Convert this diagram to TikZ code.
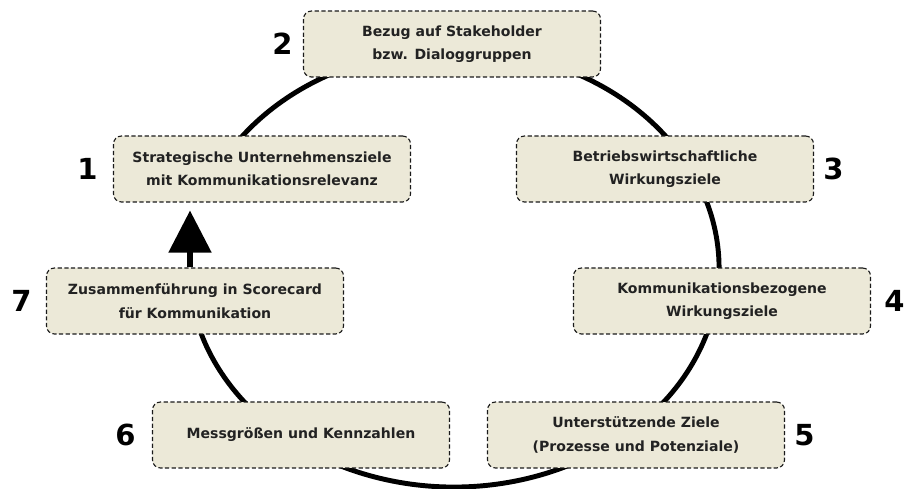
\documentclass[tikz,border=0pt]{standalone}
\usepackage{fontspec}
\setmainfont{DejaVu Sans}
\usepackage{xcolor}
\usetikzlibrary{arrows.meta}
\usetikzlibrary{positioning}
\usetikzlibrary{backgrounds}
\usetikzlibrary{calc}
\definecolor{zielfill}{HTML}{ECE9D8}
\definecolor{zieltext}{HTML}{222222}
\definecolor{zielrand}{HTML}{1A1A1A}

\begin{document}
\begin{tikzpicture}[x=0.02cm,y=-0.02cm,
    ziel/.style={draw=zielrand, fill=zielfill, line width=0.65pt,
        dash pattern=on 2.4pt off 1.4pt, rounded corners=4.5pt,
        minimum width=5.94cm, minimum height=1.32cm, align=center,
        text=zieltext, font=\fontsize{8}{13.3}\selectfont\bfseries},
    nummer/.style={inner sep=0pt, font=\fontsize{16.5}{16.5}\selectfont\bfseries},
    kreis/.style={line width=2.8pt},
    pfeil/.style={line width=2.9pt, -{Triangle[length=0.84cm,width=0.84cm]}}]
    \useasboundingbox (0,0) rectangle (908,489);

    \node[ziel] (z2) at (452,44) {Bezug auf Stakeholder\\bzw. Dialoggruppen};
    \node[ziel] (z1) at (262,169) {Strategische Unternehmensziele\\mit Kommunikationsrelevanz};
    \node[ziel] (z3) at (665,169) {Betriebswirtschaftliche\\Wirkungsziele};
    \node[ziel] (z7) at (195,301) {Zusammenführung in Scorecard\\für Kommunikation};
    \node[ziel] (z4) at (722,301) {Kommunikationsbezogene\\Wirkungsziele};
    \node[ziel] (z6) at (301,435) {Messgrößen und Kennzahlen};
    \node[ziel] (z5) at (636,435) {Unterstützende Ziele\\(Prozesse und Potenziale)};

    % Nummern
    \node[nummer, left=0.3cm of z1] (n1) {1};
    \node[nummer, left=0.2cm of z2] (n2) {2};
    \node[nummer, right=0.18cm of z3] (n3) {3};
    \node[nummer, right=0.26cm of z4] (n4) {4};
    \node[nummer, right=0.18cm of z5] (n5) {5};
    \node[nummer, left=0.32cm of z6] (n6) {6};
    \node[nummer, left=0.28cm of z7] (n7) {7};

    \begin{scope}[on background layer]
        \coordinate (mitte) at (454,268);
        \draw[kreis] ($(mitte)+(200:265 and 219)$)
            arc[start angle=200, end angle=540, x radius=265, y radius=219];
    \end{scope}
    \draw[pfeil] ($(z7.north)+(-5,0)$) -- ($(z7.north |- z1.south)+(-5,8)$);
\end{tikzpicture}
\end{document}
